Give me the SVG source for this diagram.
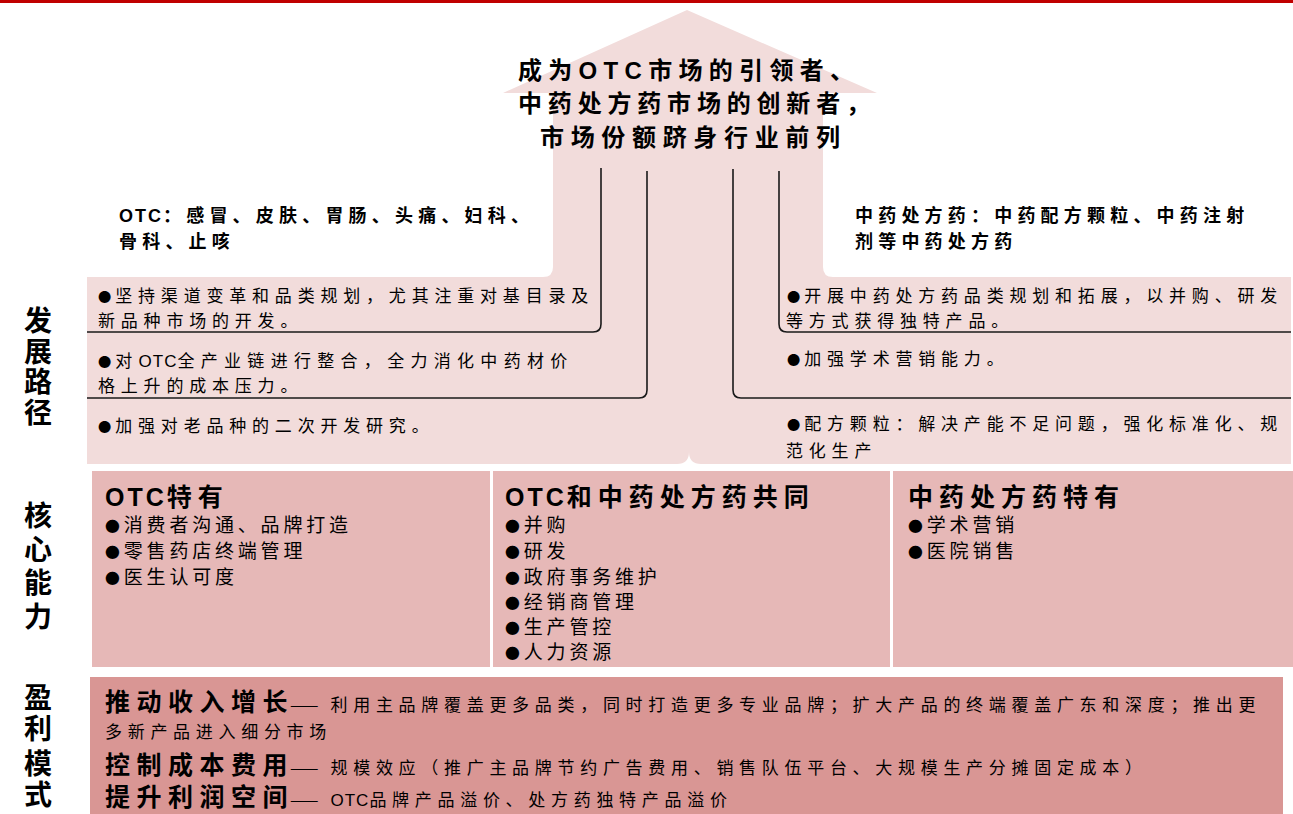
<svg xmlns="http://www.w3.org/2000/svg" width="1293" height="814" viewBox="0 0 1293 814">
<style>
text{font-family:"Liberation Sans","Noto Sans CJK SC",sans-serif;fill:#000}
.cj{font-family:"Noto Sans CJK SC",sans-serif}
.dash{font-family:"Noto Sans CJK SC",sans-serif;letter-spacing:12px}
.bu{font-family:"Noto Sans CJK SC",sans-serif;font-size:0.78em;letter-spacing:4px}
.ot{letter-spacing:1px}
.z{letter-spacing:0px}
.t{font-size:24px;font-weight:bold}
.h{font-size:18px;font-weight:bold;letter-spacing:5.2px}
.b{font-size:17px;letter-spacing:5.8px}
.bx{font-size:19px;letter-spacing:3.8px}
.hd{font-size:25px;font-weight:bold;letter-spacing:6px}
.lb{font-size:28px;font-weight:bold;text-anchor:middle}
.bb{font-size:25px;font-weight:bold;letter-spacing:6.5px}
.sm{font-size:17px;letter-spacing:5.7px}
.ln{fill:none;stroke:#1a1a1a;stroke-width:1.6}
</style>
<rect x="0" y="0" width="1293" height="814" fill="#fff"/>
<rect x="0" y="0" width="1293" height="3" fill="#c00000"/>

<g id="path-area">
<path d="M687,10 L877,93 L823,93 L823,267 Q823,277 833,277 L1291,277 L1291,464 L701,464 Q689,464 689,452 Q689,464 677,464 L87,464 L87,277 L543,277 Q553,277 553,267 L553,93 L503,93 Z" fill="#f2dcdb"/>
</g>

<g id="goal">
<text class="t" x="518" y="79" textLength="336" lengthAdjust="spacing">成为OTC市场的引领者、</text>
<text class="t" x="518" y="112" textLength="352" lengthAdjust="spacing">中药处方药市场的创新者，</text>
<text class="t" x="540" y="146" textLength="300" lengthAdjust="spacing">市场份额跻身行业前列</text>
</g>

<g id="otc-head">
<text class="h" x="119" y="222"><tspan style="letter-spacing:2px">OTC</tspan>：感冒、皮肤、胃肠、头痛、妇科、</text>
<text class="h" x="119" y="248">骨科、止咳</text>
</g>
<g id="tcm-head">
<text class="h" x="855" y="222">中药处方药：中药配方颗粒、中药注射</text>
<text class="h" x="855" y="248">剂等中药处方药</text>
</g>

<g id="connectors">
<path class="ln" d="M601,168 V324 Q601,332 593,332 H87"/>
<path class="ln" d="M647,171 V390 Q647,398 639,398 H87"/>
<path class="ln" d="M733,169 V390 Q733,398 741,398 H1291"/>
<path class="ln" d="M779,171 V324 Q779,332 787,332 H1291"/>
</g>

<g id="otc-path">
<text class="b" x="98" y="302"><tspan class="bu">●</tspan>坚持渠道变革和品类规划，尤其注重对基目录及</text>
<text class="b" x="98" y="327">新品种市场的开发。</text>
<text class="b" x="98" y="367" style="letter-spacing:6.3px"><tspan class="bu">●</tspan>对<tspan class="ot">OTC</tspan>全产业链进行整合，全力消化中药材价</text>
<text class="b" x="98" y="392">格上升的成本压力。</text>
<text class="b" x="98" y="432"><tspan class="bu">●</tspan>加强对老品种的二次开发研究。</text>
</g>
<g id="tcm-path">
<text class="b" x="787" y="302"><tspan class="bu">●</tspan>开展中药处方药品类规划和拓展，以并购、研发</text>
<text class="b" x="786" y="327">等方式获得独特产品。</text>
<text class="b" x="787" y="365"><tspan class="bu">●</tspan>加强学术营销能力。</text>
<text class="b" x="787" y="430"><tspan class="bu">●</tspan>配方颗粒：解决产能不足问题，强化标准化、规</text>
<text class="b" x="786" y="457">范化生产</text>
</g>

<g id="labels">
<text class="lb" x="38" y="331">发</text>
<text class="lb" x="38" y="362">展</text>
<text class="lb" x="38" y="392">路</text>
<text class="lb" x="38" y="423">径</text>
<text class="lb" x="38" y="526">核</text>
<text class="lb" x="38" y="560">心</text>
<text class="lb" x="38" y="593">能</text>
<text class="lb" x="38" y="627">力</text>
<text class="lb" x="38" y="708">盈</text>
<text class="lb" x="38" y="739">利</text>
<text class="lb" x="38" y="774">模</text>
<text class="lb" x="38" y="805">式</text>
</g>

<g id="box-otc">
<rect x="92" y="471" width="398" height="196" fill="#e6b8b7"/>
<text class="hd" x="105" y="506"><tspan style="letter-spacing:3px">OTC</tspan>特有</text>
<text class="bx" x="105" y="532"><tspan class="bu">●</tspan>消费者沟通、品牌打造</text>
<text class="bx" x="105" y="558"><tspan class="bu">●</tspan>零售药店终端管理</text>
<text class="bx" x="105" y="584"><tspan class="bu">●</tspan>医生认可度</text>
</g>
<g id="box-common">
<rect x="493" y="471" width="397" height="196" fill="#e6b8b7"/>
<text class="hd" x="505" y="506"><tspan style="letter-spacing:3px">OTC</tspan>和中药处方药共同</text>
<text class="bx" x="505" y="532"><tspan class="bu">●</tspan>并购</text>
<text class="bx" x="505" y="558"><tspan class="bu">●</tspan>研发</text>
<text class="bx" x="505" y="584"><tspan class="bu">●</tspan>政府事务维护</text>
<text class="bx" x="505" y="609"><tspan class="bu">●</tspan>经销商管理</text>
<text class="bx" x="505" y="634"><tspan class="bu">●</tspan>生产管控</text>
<text class="bx" x="505" y="659"><tspan class="bu">●</tspan>人力资源</text>
</g>
<g id="box-tcm">
<rect x="893" y="471" width="400" height="196" fill="#e6b8b7"/>
<text class="hd" x="908" y="506">中药处方药特有</text>
<text class="bx" x="908" y="532"><tspan class="bu">●</tspan>学术营销</text>
<text class="bx" x="908" y="558"><tspan class="bu">●</tspan>医院销售</text>
</g>

<g id="profit">
<rect x="90" y="677" width="1193" height="137" fill="#d99694"/>
<text class="bb" x="105" y="711">推动收入增<tspan class="z">长</tspan></text>
<text class="sm" x="290" y="711"><tspan class="dash">——</tspan>利用主品牌覆盖更多品类，同时打造更多专业品牌；扩大产品的终端覆盖广东和深度；推出更</text>
<text class="sm" x="105" y="738">多新产品进入细分市场</text>
<text class="bb" x="105" y="774">控制成本费<tspan class="z">用</tspan></text>
<text class="sm" x="290" y="774"><tspan class="dash">——</tspan>规模效应（推广主品牌节约广告费用、销售队伍平台、大规模生产分摊固定成本）</text>
<text class="bb" x="105" y="806">提升利润空<tspan class="z">间</tspan></text>
<text class="sm" x="290" y="806"><tspan class="dash">——</tspan><tspan class="ot">OTC</tspan>品牌产品溢价、处方药独特产品溢价</text>
</g>
</svg>
